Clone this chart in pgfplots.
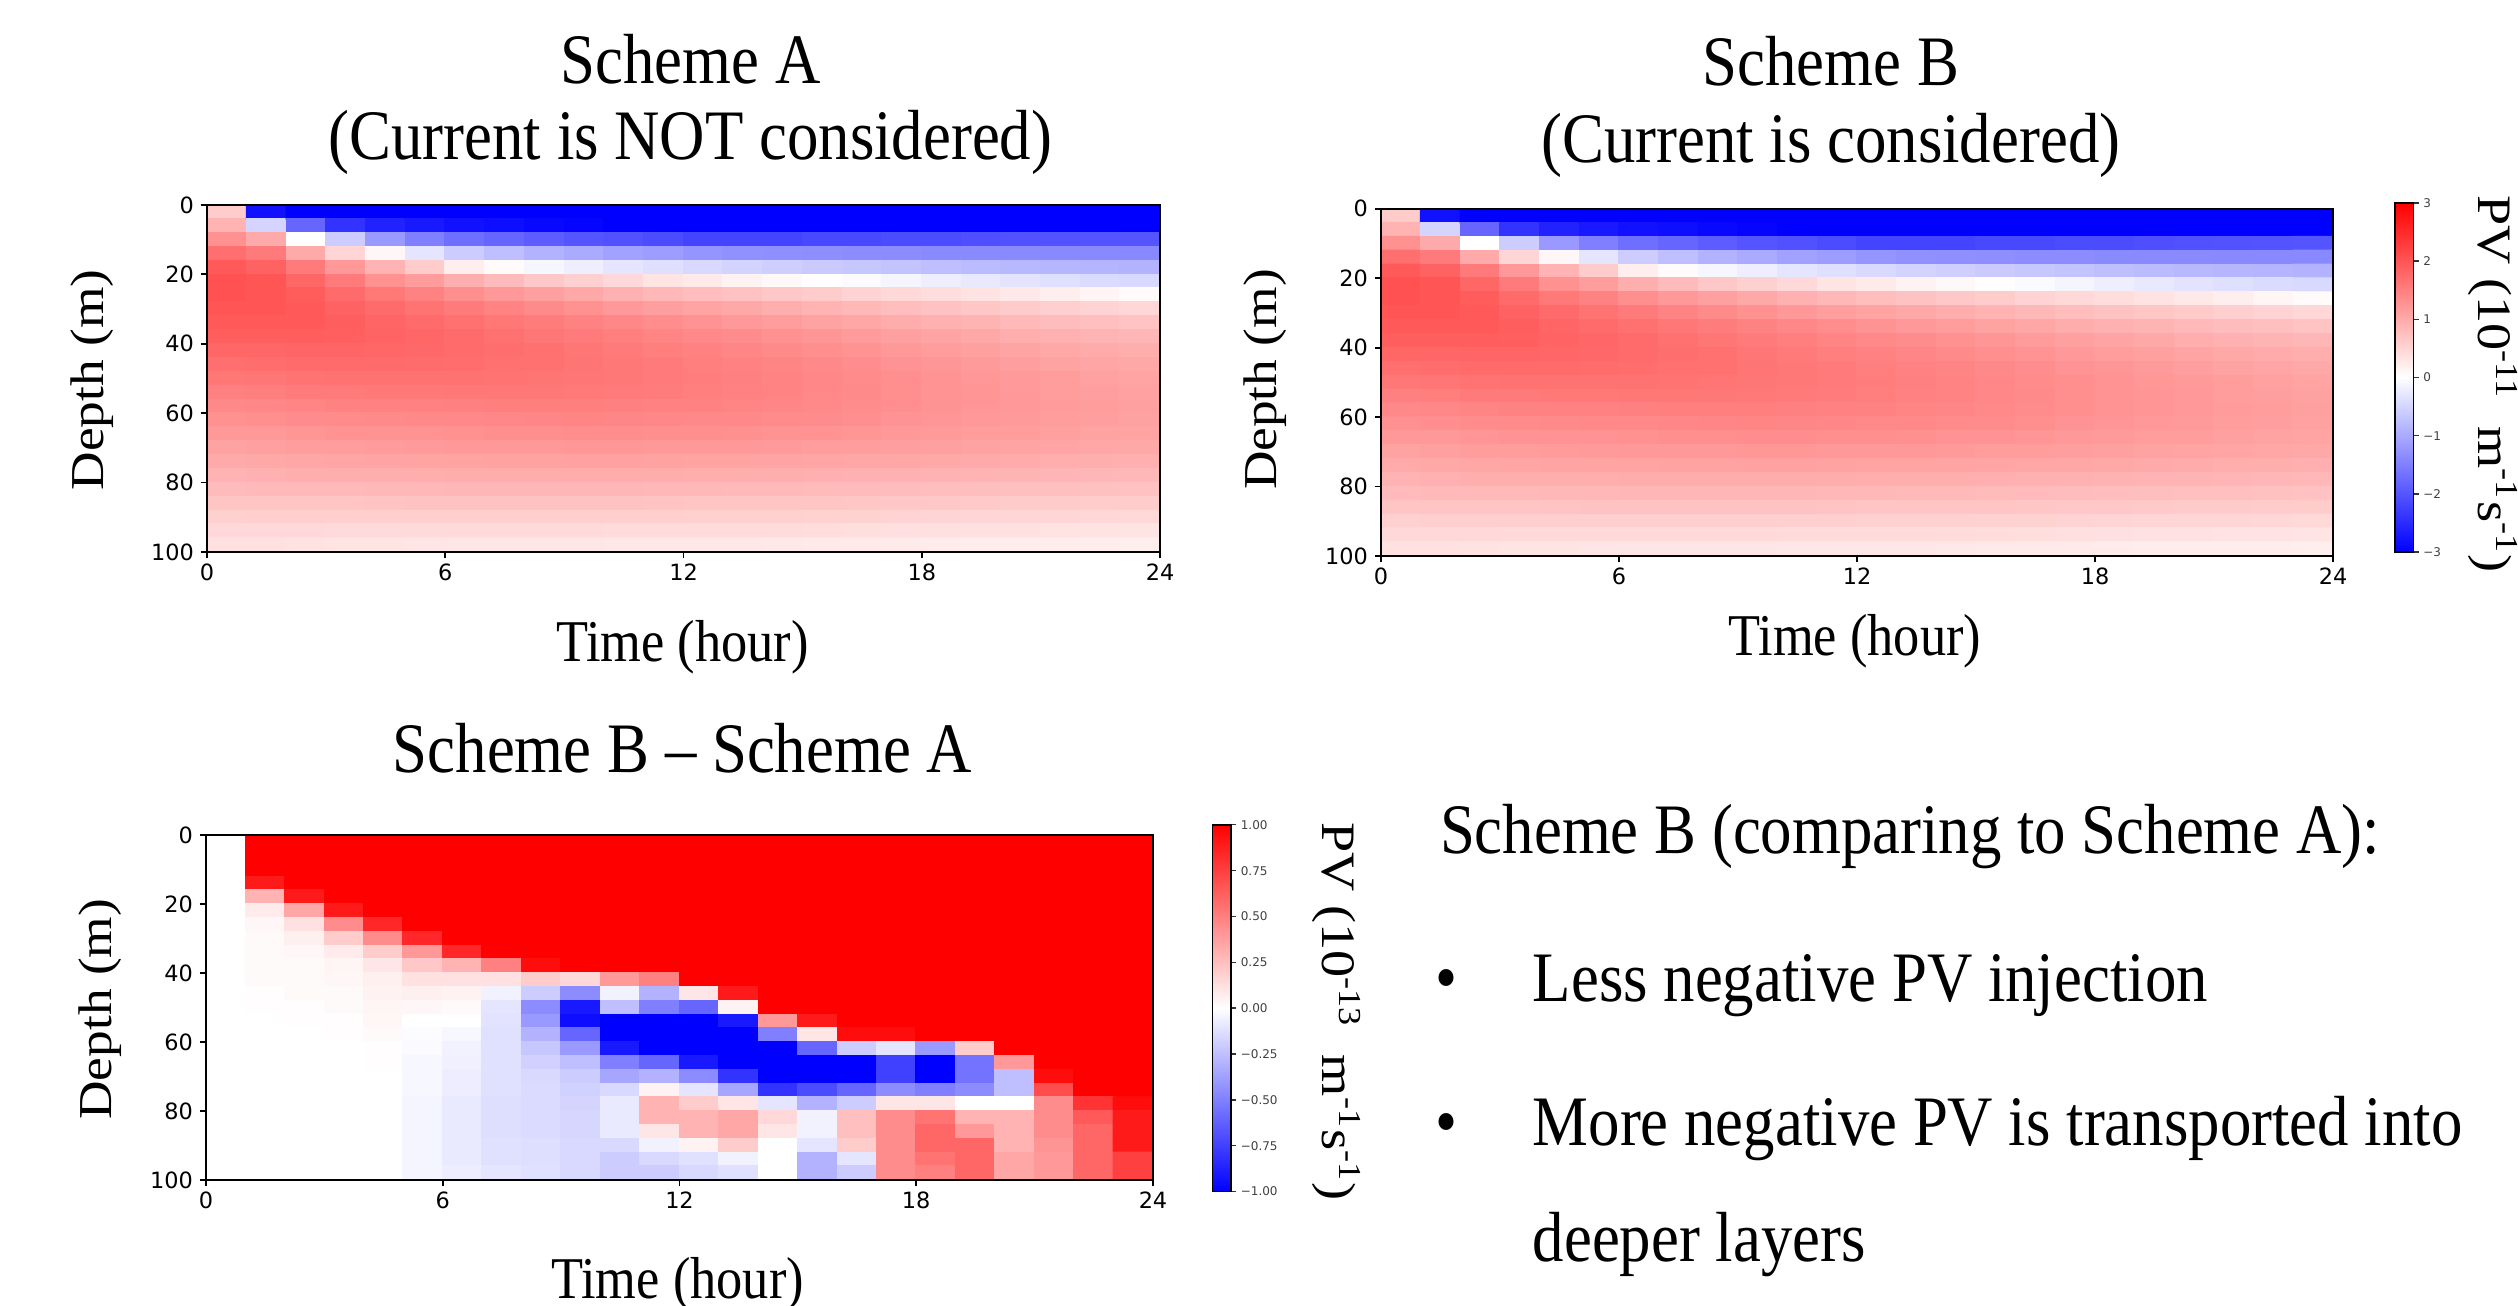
\documentclass[border=0pt]{standalone}
\usepackage{fontspec}
\setmainfont{Liberation Serif}
\newfontfamily\dejavu{DejaVu Sans}
\usepackage{graphicx}
\usepackage{pgfplots}
\usepackage{pgfplotstable}
\pgfplotsset{compat=1.18}

\newcommand\sy[1]{\scalebox{1}[1.13]{#1}}
\newcommand\sx[1]{\scalebox{1.13}[1]{#1}}
\newcommand\ftitle{\fontsize{15.7}{18}\selectfont}
\newcommand\flabel{\fontsize{13.1}{15}\selectfont}
\newcommand\fdepth{\fontsize{11.8}{14}\selectfont}
\newcommand\fcb{\fontsize{12}{14}\selectfont}
\newcommand\tickfont{\dejavu\fontsize{5.6}{6.5}\selectfont}
\newcommand\cbfont{\dejavu\fontsize{3}{3.5}\selectfont}

\pgfplotsset{
  colormap={bwr}{rgb255=(0,0,255) rgb255=(255,255,255) rgb255=(255,0,0)},
  heat/.style={scale only axis, axis on top, enlargelimits=false,
    xmin=0, xmax=24, ymin=0, ymax=100, y dir=reverse,
    xtick={0,6,12,18,24}, ytick={0,20,40,60,80,100},
    tick align=outside, tick pos=left, major tick length=1.6pt,
    tick label style={font=\tickfont},
    /pgf/number format/assume math mode=true,
    axis line style={line width=0.5pt}, tick style={line width=0.45pt, black},
    xticklabel style={inner sep=1.2pt}, yticklabel style={inner sep=1.5pt},
    colormap name=bwr},
  cbar/.style={scale only axis, axis on top, enlargelimits=false,
    xmin=0, xmax=1, xtick=\empty, ytick pos=right, yticklabel pos=right,
    tick align=outside, major tick length=1.3pt,
    tick label style={font=\cbfont, text=black!75, inner sep=1pt},
    axis line style={line width=0.4pt}, tick style={line width=0.35pt, black!80},
    colormap name=bwr}
}

% PV of Scheme A (and B, identical at this colour scale), 1e-11 m^-1 s^-1
\pgfplotstableread[row sep=\\]{
t d v\\
0.5 2 0.6\\0.5 6 0.9\\0.5 10 1.3\\0.5 14 1.7\\0.5 18 1.95\\0.5 22 2.05\\0.5 26 2.05\\0.5 30 2\\0.5 34 1.95\\0.5 38 1.9\\0.5 42 1.8\\0.5 46 1.7\\0.5 50 1.6\\0.5 54 1.5\\0.5 58 1.4\\0.5 62 1.3\\0.5 66 1.2\\0.5 70 1.1\\0.5 74 1\\0.5 78 0.9\\0.5 82 0.8\\0.5 86 0.7\\0.5 90 0.55\\0.5 94 0.45\\0.5 98 0.35\\
1.5 2 -2.8\\1.5 6 -0.5\\1.5 10 1\\1.5 14 1.55\\1.5 18 1.85\\1.5 22 2\\1.5 26 2\\1.5 30 2\\1.5 34 1.95\\1.5 38 1.9\\1.5 42 1.8\\1.5 46 1.72\\1.5 50 1.62\\1.5 54 1.52\\1.5 58 1.42\\1.5 62 1.32\\1.5 66 1.22\\1.5 70 1.12\\1.5 74 1.02\\1.5 78 0.92\\1.5 82 0.82\\1.5 86 0.7\\1.5 90 0.58\\1.5 94 0.45\\1.5 98 0.35\\
2.5 2 -3\\2.5 6 -1.8\\2.5 10 0\\2.5 14 1\\2.5 18 1.55\\2.5 22 1.8\\2.5 26 1.92\\2.5 30 1.95\\2.5 34 1.95\\2.5 38 1.9\\2.5 42 1.82\\2.5 46 1.74\\2.5 50 1.65\\2.5 54 1.55\\2.5 58 1.45\\2.5 62 1.35\\2.5 66 1.25\\2.5 70 1.15\\2.5 74 1.05\\2.5 78 0.95\\2.5 82 0.82\\2.5 86 0.7\\2.5 90 0.58\\2.5 94 0.45\\2.5 98 0.33\\
3.5 2 -3\\3.5 6 -2.4\\3.5 10 -0.6\\3.5 14 0.5\\3.5 18 1.2\\3.5 22 1.55\\3.5 26 1.75\\3.5 30 1.85\\3.5 34 1.9\\3.5 38 1.88\\3.5 42 1.82\\3.5 46 1.75\\3.5 50 1.66\\3.5 54 1.57\\3.5 58 1.47\\3.5 62 1.37\\3.5 66 1.27\\3.5 70 1.17\\3.5 74 1.06\\3.5 78 0.95\\3.5 82 0.83\\3.5 86 0.7\\3.5 90 0.57\\3.5 94 0.44\\3.5 98 0.32\\
4.5 2 -3\\4.5 6 -2.6\\4.5 10 -1.2\\4.5 14 0.1\\4.5 18 0.9\\4.5 22 1.3\\4.5 26 1.58\\4.5 30 1.74\\4.5 34 1.82\\4.5 38 1.84\\4.5 42 1.8\\4.5 46 1.74\\4.5 50 1.66\\4.5 54 1.58\\4.5 58 1.48\\4.5 62 1.38\\4.5 66 1.28\\4.5 70 1.18\\4.5 74 1.07\\4.5 78 0.96\\4.5 82 0.84\\4.5 86 0.71\\4.5 90 0.58\\4.5 94 0.44\\4.5 98 0.32\\
5.5 2 -3\\5.5 6 -2.7\\5.5 10 -1.5\\5.5 14 -0.3\\5.5 18 0.6\\5.5 22 1.15\\5.5 26 1.47\\5.5 30 1.65\\5.5 34 1.75\\5.5 38 1.79\\5.5 42 1.78\\5.5 46 1.73\\5.5 50 1.66\\5.5 54 1.58\\5.5 58 1.49\\5.5 62 1.39\\5.5 66 1.29\\5.5 70 1.19\\5.5 74 1.08\\5.5 78 0.97\\5.5 82 0.85\\5.5 86 0.72\\5.5 90 0.58\\5.5 94 0.44\\5.5 98 0.31\\
6.5 2 -3\\6.5 6 -2.8\\6.5 10 -1.7\\6.5 14 -0.6\\6.5 18 0.2\\6.5 22 0.95\\6.5 26 1.33\\6.5 30 1.55\\6.5 34 1.68\\6.5 38 1.74\\6.5 42 1.75\\6.5 46 1.72\\6.5 50 1.66\\6.5 54 1.59\\6.5 58 1.5\\6.5 62 1.4\\6.5 66 1.3\\6.5 70 1.2\\6.5 74 1.09\\6.5 78 0.98\\6.5 82 0.86\\6.5 86 0.72\\6.5 90 0.58\\6.5 94 0.44\\6.5 98 0.3\\
7.5 2 -3\\7.5 6 -2.85\\7.5 10 -1.8\\7.5 14 -0.75\\7.5 18 0.05\\7.5 22 0.8\\7.5 26 1.22\\7.5 30 1.46\\7.5 34 1.6\\7.5 38 1.68\\7.5 42 1.71\\7.5 46 1.69\\7.5 50 1.65\\7.5 54 1.59\\7.5 58 1.51\\7.5 62 1.42\\7.5 66 1.32\\7.5 70 1.21\\7.5 74 1.1\\7.5 78 0.98\\7.5 82 0.86\\7.5 86 0.72\\7.5 90 0.58\\7.5 94 0.44\\7.5 98 0.3\\
8.5 2 -3\\8.5 6 -2.9\\8.5 10 -1.9\\8.5 14 -0.9\\8.5 18 -0.1\\8.5 22 0.65\\8.5 26 1.12\\8.5 30 1.38\\8.5 34 1.54\\8.5 38 1.62\\8.5 42 1.67\\8.5 46 1.67\\8.5 50 1.64\\8.5 54 1.59\\8.5 58 1.52\\8.5 62 1.43\\8.5 66 1.33\\8.5 70 1.22\\8.5 74 1.1\\8.5 78 0.98\\8.5 82 0.86\\8.5 86 0.72\\8.5 90 0.58\\8.5 94 0.44\\8.5 98 0.3\\
9.5 2 -3\\9.5 6 -2.95\\9.5 10 -2\\9.5 14 -1\\9.5 18 -0.2\\9.5 22 0.55\\9.5 26 1.02\\9.5 30 1.3\\9.5 34 1.47\\9.5 38 1.57\\9.5 42 1.62\\9.5 46 1.64\\9.5 50 1.62\\9.5 54 1.58\\9.5 58 1.52\\9.5 62 1.44\\9.5 66 1.34\\9.5 70 1.23\\9.5 74 1.11\\9.5 78 0.98\\9.5 82 0.86\\9.5 86 0.72\\9.5 90 0.58\\9.5 94 0.44\\9.5 98 0.3\\
10.5 2 -3\\10.5 6 -3\\10.5 10 -2.05\\10.5 14 -1.1\\10.5 18 -0.3\\10.5 22 0.45\\10.5 26 0.93\\10.5 30 1.22\\10.5 34 1.41\\10.5 38 1.51\\10.5 42 1.57\\10.5 46 1.59\\10.5 50 1.59\\10.5 54 1.56\\10.5 58 1.5\\10.5 62 1.43\\10.5 66 1.34\\10.5 70 1.23\\10.5 74 1.11\\10.5 78 0.98\\10.5 82 0.86\\10.5 86 0.72\\10.5 90 0.57\\10.5 94 0.43\\10.5 98 0.29\\
11.5 2 -3\\11.5 6 -3\\11.5 10 -2.1\\11.5 14 -1.15\\11.5 18 -0.38\\11.5 22 0.32\\11.5 26 0.84\\11.5 30 1.14\\11.5 34 1.34\\11.5 38 1.45\\11.5 42 1.52\\11.5 46 1.55\\11.5 50 1.56\\11.5 54 1.54\\11.5 58 1.49\\11.5 62 1.42\\11.5 66 1.33\\11.5 70 1.22\\11.5 74 1.1\\11.5 78 0.98\\11.5 82 0.85\\11.5 86 0.71\\11.5 90 0.57\\11.5 94 0.43\\11.5 98 0.29\\
12.5 2 -3\\12.5 6 -3\\12.5 10 -2.2\\12.5 14 -1.25\\12.5 18 -0.45\\12.5 22 0.25\\12.5 26 0.78\\12.5 30 1.08\\12.5 34 1.28\\12.5 38 1.4\\12.5 42 1.48\\12.5 46 1.52\\12.5 50 1.53\\12.5 54 1.51\\12.5 58 1.47\\12.5 62 1.4\\12.5 66 1.32\\12.5 70 1.21\\12.5 74 1.09\\12.5 78 0.97\\12.5 82 0.84\\12.5 86 0.7\\12.5 90 0.56\\12.5 94 0.42\\12.5 98 0.28\\
13.5 2 -3\\13.5 6 -3\\13.5 10 -2.2\\13.5 14 -1.3\\13.5 18 -0.52\\13.5 22 0.15\\13.5 26 0.72\\13.5 30 1.02\\13.5 34 1.22\\13.5 38 1.35\\13.5 42 1.43\\13.5 46 1.48\\13.5 50 1.5\\13.5 54 1.49\\13.5 58 1.45\\13.5 62 1.39\\13.5 66 1.31\\13.5 70 1.2\\13.5 74 1.08\\13.5 78 0.96\\13.5 82 0.83\\13.5 86 0.7\\13.5 90 0.56\\13.5 94 0.42\\13.5 98 0.28\\
14.5 2 -3\\14.5 6 -3\\14.5 10 -2.2\\14.5 14 -1.32\\14.5 18 -0.58\\14.5 22 0.08\\14.5 26 0.65\\14.5 30 0.96\\14.5 34 1.16\\14.5 38 1.3\\14.5 42 1.38\\14.5 46 1.44\\14.5 50 1.46\\14.5 54 1.46\\14.5 58 1.43\\14.5 62 1.37\\14.5 66 1.29\\14.5 70 1.19\\14.5 74 1.07\\14.5 78 0.95\\14.5 82 0.82\\14.5 86 0.69\\14.5 90 0.55\\14.5 94 0.41\\14.5 98 0.27\\
15.5 2 -3\\15.5 6 -3\\15.5 10 -2.15\\15.5 14 -1.33\\15.5 18 -0.62\\15.5 22 0.02\\15.5 26 0.6\\15.5 30 0.9\\15.5 34 1.1\\15.5 38 1.24\\15.5 42 1.33\\15.5 46 1.39\\15.5 50 1.42\\15.5 54 1.42\\15.5 58 1.4\\15.5 62 1.35\\15.5 66 1.27\\15.5 70 1.17\\15.5 74 1.06\\15.5 78 0.94\\15.5 82 0.81\\15.5 86 0.68\\15.5 90 0.54\\15.5 94 0.4\\15.5 98 0.26\\
16.5 2 -3\\16.5 6 -3\\16.5 10 -2.15\\16.5 14 -1.35\\16.5 18 -0.66\\16.5 22 -0.05\\16.5 26 0.52\\16.5 30 0.84\\16.5 34 1.04\\16.5 38 1.18\\16.5 42 1.28\\16.5 46 1.34\\16.5 50 1.37\\16.5 54 1.38\\16.5 58 1.36\\16.5 62 1.32\\16.5 66 1.25\\16.5 70 1.16\\16.5 74 1.05\\16.5 78 0.93\\16.5 82 0.8\\16.5 86 0.67\\16.5 90 0.53\\16.5 94 0.39\\16.5 98 0.26\\
17.5 2 -3\\17.5 6 -3\\17.5 10 -2.1\\17.5 14 -1.35\\17.5 18 -0.7\\17.5 22 -0.12\\17.5 26 0.46\\17.5 30 0.78\\17.5 34 0.98\\17.5 38 1.12\\17.5 42 1.22\\17.5 46 1.29\\17.5 50 1.32\\17.5 54 1.33\\17.5 58 1.32\\17.5 62 1.28\\17.5 66 1.22\\17.5 70 1.14\\17.5 74 1.04\\17.5 78 0.92\\17.5 82 0.79\\17.5 86 0.66\\17.5 90 0.52\\17.5 94 0.38\\17.5 98 0.25\\
18.5 2 -3\\18.5 6 -3\\18.5 10 -2.1\\18.5 14 -1.37\\18.5 18 -0.75\\18.5 22 -0.2\\18.5 26 0.4\\18.5 30 0.72\\18.5 34 0.93\\18.5 38 1.07\\18.5 42 1.17\\18.5 46 1.24\\18.5 50 1.28\\18.5 54 1.29\\18.5 58 1.28\\18.5 62 1.25\\18.5 66 1.19\\18.5 70 1.12\\18.5 74 1.02\\18.5 78 0.91\\18.5 82 0.78\\18.5 86 0.65\\18.5 90 0.51\\18.5 94 0.37\\18.5 98 0.24\\
19.5 2 -3\\19.5 6 -3\\19.5 10 -2.07\\19.5 14 -1.38\\19.5 18 -0.8\\19.5 22 -0.27\\19.5 26 0.33\\19.5 30 0.67\\19.5 34 0.88\\19.5 38 1.02\\19.5 42 1.12\\19.5 46 1.19\\19.5 50 1.23\\19.5 54 1.25\\19.5 58 1.25\\19.5 62 1.22\\19.5 66 1.17\\19.5 70 1.1\\19.5 74 1\\19.5 78 0.9\\19.5 82 0.77\\19.5 86 0.64\\19.5 90 0.5\\19.5 94 0.36\\19.5 98 0.23\\
20.5 2 -3\\20.5 6 -3\\20.5 10 -2.05\\20.5 14 -1.38\\20.5 18 -0.83\\20.5 22 -0.33\\20.5 26 0.27\\20.5 30 0.62\\20.5 34 0.83\\20.5 38 0.97\\20.5 42 1.07\\20.5 46 1.14\\20.5 50 1.19\\20.5 54 1.21\\20.5 58 1.21\\20.5 62 1.19\\20.5 66 1.15\\20.5 70 1.08\\20.5 74 0.99\\20.5 78 0.89\\20.5 82 0.76\\20.5 86 0.63\\20.5 90 0.49\\20.5 94 0.35\\20.5 98 0.22\\
21.5 2 -3\\21.5 6 -3\\21.5 10 -2.03\\21.5 14 -1.4\\21.5 18 -0.86\\21.5 22 -0.38\\21.5 26 0.2\\21.5 30 0.57\\21.5 34 0.79\\21.5 38 0.93\\21.5 42 1.03\\21.5 46 1.1\\21.5 50 1.15\\21.5 54 1.17\\21.5 58 1.18\\21.5 62 1.16\\21.5 66 1.12\\21.5 70 1.06\\21.5 74 0.97\\21.5 78 0.87\\21.5 82 0.75\\21.5 86 0.62\\21.5 90 0.48\\21.5 94 0.34\\21.5 98 0.22\\
22.5 2 -3\\22.5 6 -3\\22.5 10 -2.02\\22.5 14 -1.4\\22.5 18 -0.88\\22.5 22 -0.42\\22.5 26 0.12\\22.5 30 0.52\\22.5 34 0.75\\22.5 38 0.89\\22.5 42 0.99\\22.5 46 1.06\\22.5 50 1.11\\22.5 54 1.14\\22.5 58 1.15\\22.5 62 1.14\\22.5 66 1.1\\22.5 70 1.04\\22.5 74 0.96\\22.5 78 0.86\\22.5 82 0.74\\22.5 86 0.61\\22.5 90 0.47\\22.5 94 0.33\\22.5 98 0.21\\
23.5 2 -3\\23.5 6 -3\\23.5 10 -2\\23.5 14 -1.4\\23.5 18 -0.9\\23.5 22 -0.45\\23.5 26 0.05\\23.5 30 0.47\\23.5 34 0.71\\23.5 38 0.86\\23.5 42 0.96\\23.5 46 1.03\\23.5 50 1.08\\23.5 54 1.11\\23.5 58 1.12\\23.5 62 1.11\\23.5 66 1.08\\23.5 70 1.02\\23.5 74 0.94\\23.5 78 0.85\\23.5 82 0.73\\23.5 86 0.6\\23.5 90 0.46\\23.5 94 0.32\\23.5 98 0.2\\
}\tabA

% Scheme B - Scheme A, 1e-13 m^-1 s^-1 (clipped at +-1)
\pgfplotstableread[row sep=\\]{
t d v\\
0.5 2 0\\0.5 6 0\\0.5 10 0\\0.5 14 0\\0.5 18 0\\0.5 22 0\\0.5 26 0\\0.5 30 0\\0.5 34 0\\0.5 38 0\\0.5 42 0\\0.5 46 0\\0.5 50 0\\0.5 54 0\\0.5 58 0\\0.5 62 0\\0.5 66 0\\0.5 70 0\\0.5 74 0\\0.5 78 0\\0.5 82 0\\0.5 86 0\\0.5 90 0\\0.5 94 0\\0.5 98 0\\
1.5 2 1\\1.5 6 1\\1.5 10 1\\1.5 14 0.9\\1.5 18 0.3\\1.5 22 0.08\\1.5 26 0.03\\1.5 30 0.02\\1.5 34 0.02\\1.5 38 0.02\\1.5 42 0.02\\1.5 46 0.01\\1.5 50 0.01\\1.5 54 0\\1.5 58 0\\1.5 62 0\\1.5 66 0\\1.5 70 0\\1.5 74 0\\1.5 78 0\\1.5 82 0\\1.5 86 0\\1.5 90 0\\1.5 94 0\\1.5 98 0\\
2.5 2 1\\2.5 6 1\\2.5 10 1\\2.5 14 1\\2.5 18 0.9\\2.5 22 0.35\\2.5 26 0.12\\2.5 30 0.06\\2.5 34 0.03\\2.5 38 0.02\\2.5 42 0.02\\2.5 46 0.02\\2.5 50 0.01\\2.5 54 0.01\\2.5 58 0\\2.5 62 0\\2.5 66 0\\2.5 70 0\\2.5 74 0\\2.5 78 0\\2.5 82 0\\2.5 86 0\\2.5 90 0\\2.5 94 0\\2.5 98 0\\
3.5 2 1\\3.5 6 1\\3.5 10 1\\3.5 14 1\\3.5 18 1\\3.5 22 0.9\\3.5 26 0.45\\3.5 30 0.2\\3.5 34 0.08\\3.5 38 0.04\\3.5 42 0.03\\3.5 46 0.02\\3.5 50 0.02\\3.5 54 0.01\\3.5 58 0.01\\3.5 62 0\\3.5 66 0\\3.5 70 0\\3.5 74 0\\3.5 78 0\\3.5 82 0\\3.5 86 0\\3.5 90 0\\3.5 94 0\\3.5 98 0\\
4.5 2 1\\4.5 6 1\\4.5 10 1\\4.5 14 1\\4.5 18 1\\4.5 22 1\\4.5 26 0.85\\4.5 30 0.45\\4.5 34 0.2\\4.5 38 0.1\\4.5 42 0.06\\4.5 46 0.05\\4.5 50 0.04\\4.5 54 0.03\\4.5 58 0.02\\4.5 62 0.01\\4.5 66 0.01\\4.5 70 0\\4.5 74 0\\4.5 78 0\\4.5 82 0\\4.5 86 0\\4.5 90 0\\4.5 94 0\\4.5 98 0\\
5.5 2 1\\5.5 6 1\\5.5 10 1\\5.5 14 1\\5.5 18 1\\5.5 22 1\\5.5 26 1\\5.5 30 0.85\\5.5 34 0.4\\5.5 38 0.22\\5.5 42 0.12\\5.5 46 0.06\\5.5 50 0.03\\5.5 54 0\\5.5 58 -0.01\\5.5 62 -0.02\\5.5 66 -0.03\\5.5 70 -0.03\\5.5 74 -0.03\\5.5 78 -0.04\\5.5 82 -0.04\\5.5 86 -0.04\\5.5 90 -0.04\\5.5 94 -0.04\\5.5 98 -0.04\\
6.5 2 1\\6.5 6 1\\6.5 10 1\\6.5 14 1\\6.5 18 1\\6.5 22 1\\6.5 26 1\\6.5 30 1\\6.5 34 0.85\\6.5 38 0.3\\6.5 42 0.12\\6.5 46 0.05\\6.5 50 0.02\\6.5 54 0\\6.5 58 -0.03\\6.5 62 -0.05\\6.5 66 -0.06\\6.5 70 -0.07\\6.5 74 -0.07\\6.5 78 -0.08\\6.5 82 -0.08\\6.5 86 -0.08\\6.5 90 -0.08\\6.5 94 -0.08\\6.5 98 -0.07\\
7.5 2 1\\7.5 6 1\\7.5 10 1\\7.5 14 1\\7.5 18 1\\7.5 22 1\\7.5 26 1\\7.5 30 1\\7.5 34 1\\7.5 38 0.5\\7.5 42 0.12\\7.5 46 -0.05\\7.5 50 -0.1\\7.5 54 -0.11\\7.5 58 -0.12\\7.5 62 -0.12\\7.5 66 -0.12\\7.5 70 -0.12\\7.5 74 -0.12\\7.5 78 -0.13\\7.5 82 -0.13\\7.5 86 -0.13\\7.5 90 -0.12\\7.5 94 -0.12\\7.5 98 -0.1\\
8.5 2 1\\8.5 6 1\\8.5 10 1\\8.5 14 1\\8.5 18 1\\8.5 22 1\\8.5 26 1\\8.5 30 1\\8.5 34 1\\8.5 38 0.95\\8.5 42 0.2\\8.5 46 -0.2\\8.5 50 -0.45\\8.5 54 -0.4\\8.5 58 -0.3\\8.5 62 -0.22\\8.5 66 -0.18\\8.5 70 -0.15\\8.5 74 -0.14\\8.5 78 -0.14\\8.5 82 -0.14\\8.5 86 -0.14\\8.5 90 -0.13\\8.5 94 -0.13\\8.5 98 -0.12\\
9.5 2 1\\9.5 6 1\\9.5 10 1\\9.5 14 1\\9.5 18 1\\9.5 22 1\\9.5 26 1\\9.5 30 1\\9.5 34 1\\9.5 38 1\\9.5 42 0.15\\9.5 46 -0.45\\9.5 50 -0.9\\9.5 54 -0.95\\9.5 58 -0.6\\9.5 62 -0.4\\9.5 66 -0.25\\9.5 70 -0.2\\9.5 74 -0.18\\9.5 78 -0.17\\9.5 82 -0.16\\9.5 86 -0.16\\9.5 90 -0.15\\9.5 94 -0.15\\9.5 98 -0.15\\
10.5 2 1\\10.5 6 1\\10.5 10 1\\10.5 14 1\\10.5 18 1\\10.5 22 1\\10.5 26 1\\10.5 30 1\\10.5 34 1\\10.5 38 1\\10.5 42 0.4\\10.5 46 -0.05\\10.5 50 -0.25\\10.5 54 -1\\10.5 58 -1\\10.5 62 -0.9\\10.5 66 -0.5\\10.5 70 -0.35\\10.5 74 -0.15\\10.5 78 -0.08\\10.5 82 -0.08\\10.5 86 -0.08\\10.5 90 -0.15\\10.5 94 -0.2\\10.5 98 -0.2\\
11.5 2 1\\11.5 6 1\\11.5 10 1\\11.5 14 1\\11.5 18 1\\11.5 22 1\\11.5 26 1\\11.5 30 1\\11.5 34 1\\11.5 38 1\\11.5 42 0.5\\11.5 46 -0.3\\11.5 50 -0.5\\11.5 54 -1\\11.5 58 -1\\11.5 62 -1\\11.5 66 -0.6\\11.5 70 -0.3\\11.5 74 0.05\\11.5 78 0.3\\11.5 82 0.3\\11.5 86 0.1\\11.5 90 -0.05\\11.5 94 -0.15\\11.5 98 -0.2\\
12.5 2 1\\12.5 6 1\\12.5 10 1\\12.5 14 1\\12.5 18 1\\12.5 22 1\\12.5 26 1\\12.5 30 1\\12.5 34 1\\12.5 38 1\\12.5 42 1\\12.5 46 0.1\\12.5 50 -0.6\\12.5 54 -1\\12.5 58 -1\\12.5 62 -1\\12.5 66 -0.9\\12.5 70 -0.45\\12.5 74 -0.1\\12.5 78 0.2\\12.5 82 0.3\\12.5 86 0.3\\12.5 90 0.05\\12.5 94 -0.12\\12.5 98 -0.15\\
13.5 2 1\\13.5 6 1\\13.5 10 1\\13.5 14 1\\13.5 18 1\\13.5 22 1\\13.5 26 1\\13.5 30 1\\13.5 34 1\\13.5 38 1\\13.5 42 1\\13.5 46 0.9\\13.5 50 0.05\\13.5 54 -0.9\\13.5 58 -1\\13.5 62 -1\\13.5 66 -1\\13.5 70 -0.8\\13.5 74 -0.35\\13.5 78 0.1\\13.5 82 0.35\\13.5 86 0.35\\13.5 90 0.2\\13.5 94 -0.05\\13.5 98 -0.12\\
14.5 2 1\\14.5 6 1\\14.5 10 1\\14.5 14 1\\14.5 18 1\\14.5 22 1\\14.5 26 1\\14.5 30 1\\14.5 34 1\\14.5 38 1\\14.5 42 1\\14.5 46 1\\14.5 50 1\\14.5 54 0.4\\14.5 58 -0.5\\14.5 62 -1\\14.5 66 -1\\14.5 70 -1\\14.5 74 -0.8\\14.5 78 -0.1\\14.5 82 0.15\\14.5 86 0.1\\14.5 90 0\\14.5 94 0\\14.5 98 0\\
15.5 2 1\\15.5 6 1\\15.5 10 1\\15.5 14 1\\15.5 18 1\\15.5 22 1\\15.5 26 1\\15.5 30 1\\15.5 34 1\\15.5 38 1\\15.5 42 1\\15.5 46 1\\15.5 50 1\\15.5 54 0.9\\15.5 58 0.1\\15.5 62 -0.6\\15.5 66 -1\\15.5 70 -1\\15.5 74 -0.7\\15.5 78 -0.3\\15.5 82 -0.05\\15.5 86 -0.05\\15.5 90 -0.1\\15.5 94 -0.3\\15.5 98 -0.3\\
16.5 2 1\\16.5 6 1\\16.5 10 1\\16.5 14 1\\16.5 18 1\\16.5 22 1\\16.5 26 1\\16.5 30 1\\16.5 34 1\\16.5 38 1\\16.5 42 1\\16.5 46 1\\16.5 50 1\\16.5 54 1\\16.5 58 0.95\\16.5 62 -0.2\\16.5 66 -1\\16.5 70 -1\\16.5 74 -0.6\\16.5 78 -0.2\\16.5 82 0.25\\16.5 86 0.25\\16.5 90 0.2\\16.5 94 -0.1\\16.5 98 -0.2\\
17.5 2 1\\17.5 6 1\\17.5 10 1\\17.5 14 1\\17.5 18 1\\17.5 22 1\\17.5 26 1\\17.5 30 1\\17.5 34 1\\17.5 38 1\\17.5 42 1\\17.5 46 1\\17.5 50 1\\17.5 54 1\\17.5 58 0.95\\17.5 62 -0.1\\17.5 66 -0.75\\17.5 70 -0.75\\17.5 74 -0.45\\17.5 78 0.1\\17.5 82 0.45\\17.5 86 0.45\\17.5 90 0.45\\17.5 94 0.45\\17.5 98 0.45\\
18.5 2 1\\18.5 6 1\\18.5 10 1\\18.5 14 1\\18.5 18 1\\18.5 22 1\\18.5 26 1\\18.5 30 1\\18.5 34 1\\18.5 38 1\\18.5 42 1\\18.5 46 1\\18.5 50 1\\18.5 54 1\\18.5 58 1\\18.5 62 -0.4\\18.5 66 -1\\18.5 70 -1\\18.5 74 -0.5\\18.5 78 0.1\\18.5 82 0.55\\18.5 86 0.6\\18.5 90 0.6\\18.5 94 0.55\\18.5 98 0.5\\
19.5 2 1\\19.5 6 1\\19.5 10 1\\19.5 14 1\\19.5 18 1\\19.5 22 1\\19.5 26 1\\19.5 30 1\\19.5 34 1\\19.5 38 1\\19.5 42 1\\19.5 46 1\\19.5 50 1\\19.5 54 1\\19.5 58 1\\19.5 62 0.2\\19.5 66 -0.55\\19.5 70 -0.55\\19.5 74 -0.45\\19.5 78 0\\19.5 82 0.3\\19.5 86 0.4\\19.5 90 0.6\\19.5 94 0.6\\19.5 98 0.6\\
20.5 2 1\\20.5 6 1\\20.5 10 1\\20.5 14 1\\20.5 18 1\\20.5 22 1\\20.5 26 1\\20.5 30 1\\20.5 34 1\\20.5 38 1\\20.5 42 1\\20.5 46 1\\20.5 50 1\\20.5 54 1\\20.5 58 1\\20.5 62 1\\20.5 66 0.4\\20.5 70 -0.25\\20.5 74 -0.25\\20.5 78 0\\20.5 82 0.3\\20.5 86 0.3\\20.5 90 0.3\\20.5 94 0.35\\20.5 98 0.35\\
21.5 2 1\\21.5 6 1\\21.5 10 1\\21.5 14 1\\21.5 18 1\\21.5 22 1\\21.5 26 1\\21.5 30 1\\21.5 34 1\\21.5 38 1\\21.5 42 1\\21.5 46 1\\21.5 50 1\\21.5 54 1\\21.5 58 1\\21.5 62 1\\21.5 66 1\\21.5 70 0.95\\21.5 74 0.7\\21.5 78 0.45\\21.5 82 0.45\\21.5 86 0.45\\21.5 90 0.42\\21.5 94 0.4\\21.5 98 0.4\\
22.5 2 1\\22.5 6 1\\22.5 10 1\\22.5 14 1\\22.5 18 1\\22.5 22 1\\22.5 26 1\\22.5 30 1\\22.5 34 1\\22.5 38 1\\22.5 42 1\\22.5 46 1\\22.5 50 1\\22.5 54 1\\22.5 58 1\\22.5 62 1\\22.5 66 1\\22.5 70 1\\22.5 74 1\\22.5 78 0.8\\22.5 82 0.65\\22.5 86 0.6\\22.5 90 0.6\\22.5 94 0.6\\22.5 98 0.6\\
23.5 2 1\\23.5 6 1\\23.5 10 1\\23.5 14 1\\23.5 18 1\\23.5 22 1\\23.5 26 1\\23.5 30 1\\23.5 34 1\\23.5 38 1\\23.5 42 1\\23.5 46 1\\23.5 50 1\\23.5 54 1\\23.5 58 1\\23.5 62 1\\23.5 66 1\\23.5 70 1\\23.5 74 1\\23.5 78 0.95\\23.5 82 0.9\\23.5 86 0.9\\23.5 90 0.9\\23.5 94 0.75\\23.5 98 0.75\\
}\tabD

\begin{document}
\begin{tikzpicture}
\useasboundingbox (0pt,0pt) rectangle (629.5pt,326.5pt);

% Scheme A
\begin{axis}[heat, at={(51.75pt,188.5pt)}, anchor=south west,
  width=238.25pt, height=86.75pt, point meta min=-3, point meta max=3]
\addplot[matrix plot*, mesh/rows=25, mesh/cols=24, mesh/ordering=y varies,
  point meta=explicit] table[x=t, y=d, meta=v] {\tabA};
\end{axis}

% Scheme B
\begin{axis}[heat, at={(345.25pt,187.5pt)}, anchor=south west,
  width=238pt, height=86.8pt, point meta min=-3, point meta max=3]
\addplot[matrix plot*, mesh/rows=25, mesh/cols=24, mesh/ordering=y varies,
  point meta=explicit] table[x=t, y=d, meta=v] {\tabA};
\end{axis}

% colour bar A/B
\begin{axis}[cbar, at={(598.75pt,188.5pt)}, anchor=south west,
  width=4.6pt, height=87.25pt, ymin=-3, ymax=3,
  ytick={-3,-2,-1,0,1,2,3}, yticklabels={−3,−2,−1,0,1,2,3},
  point meta min=-3, point meta max=3]
\addplot[surf, shader=interp, point meta=y, mesh/rows=3, mesh/cols=3]
  coordinates {(0,-3) (0.5,-3) (1,-3) (0,0) (0.5,0) (1,0) (0,3) (0.5,3) (1,3)};
\end{axis}

% Difference
\begin{axis}[heat, at={(51.5pt,31.5pt)}, anchor=south west,
  width=236.75pt, height=86.25pt, point meta min=-1, point meta max=1]
\addplot[matrix plot*, mesh/rows=25, mesh/cols=24, mesh/ordering=y varies,
  point meta=explicit] table[x=t, y=d, meta=v] {\tabD};
\end{axis}

% colour bar difference
\begin{axis}[cbar, at={(303.1pt,28.6pt)}, anchor=south west,
  width=4.6pt, height=91.7pt, ymin=-1, ymax=1,
  ytick={-1,-0.75,-0.5,-0.25,0,0.25,0.5,0.75,1},
  yticklabels={−1.00,−0.75,−0.50,−0.25,0.00,0.25,0.50,0.75,1.00},
  point meta min=-1, point meta max=1]
\addplot[surf, shader=interp, point meta=y, mesh/rows=3, mesh/cols=3]
  coordinates {(0,-1) (0.5,-1) (1,-1) (0,0) (0.5,0) (1,0) (0,1) (0.5,1) (1,1)};
\end{axis}

% titles
\node[font=\ftitle, inner sep=0] at (172.6pt,311.6pt) {\sy{Scheme A}};
\node[font=\ftitle, inner sep=0] at (172.6pt,290.8pt) {\sy{(Current is NOT considered)}};
\node[font=\ftitle, inner sep=0] at (457.7pt,311.25pt) {\sy{Scheme B}};
\node[font=\ftitle, inner sep=0] at (457.7pt,290.2pt) {\sy{(Current is considered)}};
\node[font=\ftitle, inner sep=0] at (170.6pt,139.4pt) {\sy{Scheme B – Scheme A}};

% axis labels
\node[font=\flabel, inner sep=0] at (170.6pt,164.7pt) {\sy{Time (hour)}};
\node[font=\flabel, inner sep=0] at (463.7pt,166.3pt) {\sy{Time (hour)}};
\node[font=\flabel, inner sep=0] at (169.4pt,5.4pt) {\sy{Time (hour)}};
\node[font=\fdepth, inner sep=0, rotate=90] at (23.1pt,231.5pt) {\sx{Depth (m)}};
\node[font=\fdepth, inner sep=0, rotate=90] at (316.2pt,231.6pt) {\sx{Depth (m)}};
\node[font=\fdepth, inner sep=0, rotate=90] at (25.1pt,74.2pt) {\sx{Depth (m)}};

% colour bar labels
\node[font=\fcb, inner sep=0, rotate=-90] at (623.2pt,230.5pt)
  {\sx{PV (10\textsuperscript{-11}\ \ m\textsuperscript{-1}s\textsuperscript{-1})}};
\node[font=\fcb, inner sep=0, rotate=-90] at (334.1pt,73.6pt)
  {\sx{PV (10\textsuperscript{-13}\ \ m\textsuperscript{-1}s\textsuperscript{-1})}};

% notes
\node[font=\ftitle, inner sep=0, anchor=base west] at (359.8pt,113pt) {\sy{Scheme B (comparing to Scheme A):}};
\node[font=\ftitle, inner sep=0, anchor=base] at (361.5pt,76pt) {\sy{•}};
\node[font=\ftitle, inner sep=0, anchor=base west] at (383pt,76pt) {\sy{Less negative PV injection}};
\node[font=\ftitle, inner sep=0, anchor=base] at (361.5pt,40pt) {\sy{•}};
\node[font=\ftitle, inner sep=0, anchor=base west] at (383pt,40pt) {\sy{More negative PV is transported into}};
\node[font=\ftitle, inner sep=0, anchor=base west] at (383pt,11pt) {\sy{deeper layers}};
\end{tikzpicture}
\end{document}
